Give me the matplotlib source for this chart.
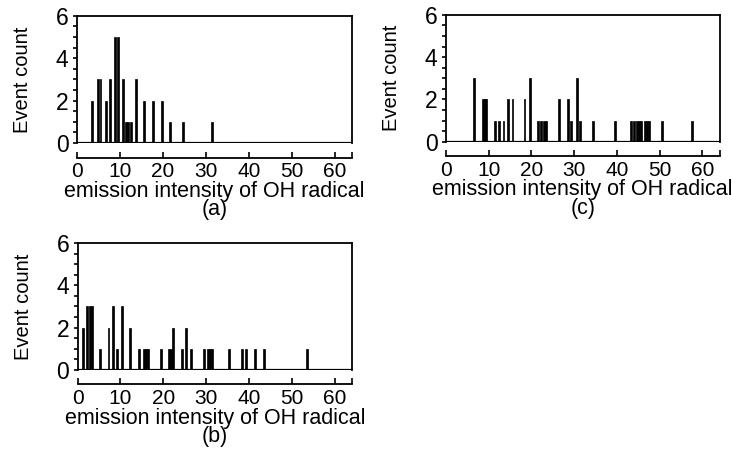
import numpy as np
import matplotlib.pyplot as plt
from matplotlib.ticker import MultipleLocator, FixedLocator

plt.rcParams['font.family'] = ['Liberation Sans', 'DejaVu Sans']

# panel (a)
a_pos = [3.6, 4.9, 5.5, 6.7, 7.6, 8.9, 9.5, 10.8, 11.5, 11.9, 12.6, 13.7,
         15.7, 17.7, 19.7, 21.7, 24.7, 31.5]
a_cnt = [2, 3, 3, 2, 3, 5, 5, 3, 1, 1, 1, 3, 2, 2, 2, 1, 1, 1]

# panel (b)
b_pos = [1.2, 2.3, 2.8, 3.3, 5.3, 7.2, 8.3, 9.2, 10.3, 12.3, 14.3, 15.4,
         15.9, 16.4, 19.4, 21.4, 21.8, 22.2, 24.3, 25.3, 26.4, 29.4, 30.3,
         30.8, 31.4, 35.4, 38.3, 39.3, 41.4, 43.5, 53.4]
b_cnt = [2, 3, 3, 3, 1, 2, 3, 1, 3, 2, 1, 1, 1, 1, 1, 1, 1, 2, 1, 2, 1, 1, 1,
         1, 1, 1, 1, 1, 1, 1, 1]

# panel (c)
c_pos = [6.7, 8.7, 9.1, 9.5, 11.5, 12.5, 13.5, 14.5, 15.6, 18.4, 19.6, 21.5,
         22.2, 22.9, 23.5, 26.5, 28.6, 29.3, 30.6, 31.4, 34.5, 39.6, 43.4,
         44.0, 44.6, 45.1, 45.6, 46.5, 47.0, 47.5, 50.6, 57.5]
c_cnt = [3, 2, 2, 2, 1, 1, 1, 2, 2, 2, 3, 1, 1, 1, 1, 2, 2, 1, 3, 1, 1, 1, 1,
         1, 1, 1, 1, 1, 1, 1, 1, 1]

xlabel = 'emission intensity of OH radical'

fig = plt.figure(figsize=(7.32, 4.5), dpi=100)


def panel(rect, pos, cnt, tag):
    ax = fig.add_axes(rect)
    ax.bar(pos, cnt, width=0.45, color='black', edgecolor='black', linewidth=0.5)
    ax.set_xlim(0, 64)
    ax.set_ylim(0, 6)
    ax.axhline(0, color='black', lw=1.6)
    for s in ['top', 'left', 'right']:
        ax.spines[s].set_linewidth(1.3)
    # x axis is drawn as a separate ruler under the box
    ax.spines['bottom'].set_position(('outward', 10.5))
    ax.spines['bottom'].set_linewidth(1.3)
    ax.xaxis.set_major_locator(FixedLocator([0, 10, 20, 30, 40, 50, 60]))
    ax.xaxis.set_minor_locator(FixedLocator([64]))
    ax.tick_params(axis='x', which='both', direction='in', length=4, width=1.2,
                   labelsize=15, pad=3)
    ax.yaxis.set_major_locator(MultipleLocator(2))
    ax.yaxis.set_minor_locator(MultipleLocator(0.5))
    ax.tick_params(axis='y', which='both', direction='out', length=3, width=1.2,
                   labelsize=16.5, pad=3)
    ax.set_xlabel(xlabel + '\n' + tag, fontsize=15.5, linespacing=0.85, labelpad=0)
    ax.set_ylabel('Event count', fontsize=14.5, labelpad=17)
    return ax


panel([0.105, 0.682, 0.376, 0.283], a_pos, a_cnt, '(a)')
panel([0.609, 0.685, 0.374, 0.282], c_pos, c_cnt, '(c)')
panel([0.106, 0.178, 0.375, 0.282], b_pos, b_cnt, '(b)')

fig.savefig('out.png', dpi=100)
